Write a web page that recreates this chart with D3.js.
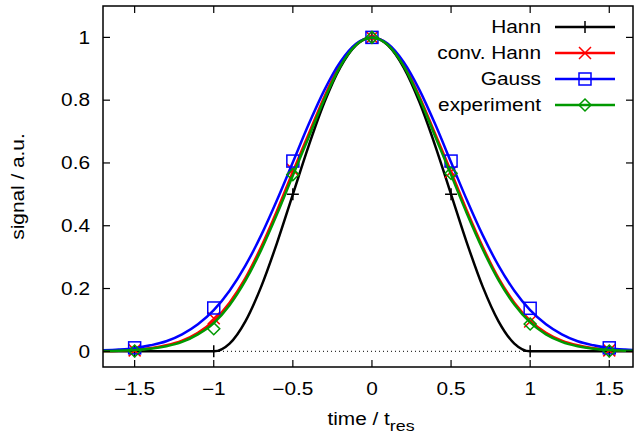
<!DOCTYPE html>
<html>
<head>
<meta charset="utf-8">
<script src="https://cdn.jsdelivr.net/npm/d3@7"></script>
<style>
body{margin:0;background:#fff;}
text{font-family:"Liberation Sans",Arial,sans-serif;}
</style>
</head>
<body>
<svg id="chart" width="635" height="434"></svg>
<script>
// curve samples, t = -1.7 .. 1.7 step 0.1
var t_grid = [-1.7,-1.6,-1.5,-1.4,-1.3,-1.2,-1.1,-1.0,-0.9,-0.8,-0.7,-0.6,-0.5,-0.4,-0.3,-0.2,-0.1,0,
  0.1,0.2,0.3,0.4,0.5,0.6,0.7,0.8,0.9,1.0,1.1,1.2,1.3,1.4,1.5,1.6,1.7]
var hann_curve = [0,0,0,0,0,0,0,0,0.0245,0.0955,0.2061,0.3455,0.5,0.6545,0.7939,0.9045,0.9755,1,
  0.9755,0.9045,0.7939,0.6545,0.5,0.3455,0.2061,0.0955,0.0245,0,0,0,0,0,0,0,0]
var conv_curve = [0.001,0.002,0.005,0.010,0.019,0.034,0.059,0.098,0.155,0.233,0.333,0.448,0.572,0.692,0.812,0.913,0.978,1,
  0.978,0.913,0.812,0.692,0.572,0.448,0.333,0.233,0.155,0.098,0.059,0.034,0.019,0.010,0.005,0.002,0.001]
var gauss_curve = [0.003,0.0055,0.010,0.019,0.032,0.054,0.086,0.131,0.193,0.273,0.370,0.482,0.602,0.723,0.833,0.922,0.980,1,
  0.980,0.922,0.833,0.723,0.602,0.482,0.370,0.273,0.193,0.131,0.086,0.054,0.032,0.019,0.010,0.0055,0.003]
var exp_curve = [0.001,0.002,0.004,0.008,0.016,0.030,0.054,0.090,0.147,0.225,0.323,0.437,0.560,0.682,0.804,0.908,0.976,1,
  0.976,0.909,0.806,0.684,0.562,0.439,0.325,0.227,0.149,0.092,0.054,0.030,0.016,0.008,0.004,0.002,0.001]

// marker points
var t_points = [-1.5,-1,-0.5,0,0.5,1,1.5]
var hann_pts = [0,0,0.5,1,0.5,0,0]
var conv_pts = [0.003,0.105,0.578,1,0.572,0.095,0.003]
var gauss_pts = [0.011,0.138,0.606,1,0.606,0.137,0.011]
var exp_pts = [0.001,0.072,0.563,1,0.567,0.087,0.001]

var series_names = ["Hann","conv. Hann","Gauss","experiment"]
var series_colors = ["#000000","#ff0000","#0000ff","#009900"]
var series_symbols = ["plus","cross","square","diamond"]
var curves = [hann_curve,conv_curve,gauss_curve,exp_curve]
var points = [hann_pts,conv_pts,gauss_pts,exp_pts]

var x_ticks = [-1.5,-1,-0.5,0,0.5,1,1.5]
var y_ticks = [0,0.2,0.4,0.6,0.8,1]

var margin = {left:103, right:2, top:6, bottom:67}
var width = 635, height = 434
var font_size = 17.5, stretch = 1.19

var svg = d3.select("#chart")
var x = d3.scaleLinear().domain([-1.7,1.65]).range([margin.left, width-margin.right])
var y = d3.scaleLinear().domain([-0.05,1.1]).range([height-margin.bottom, margin.top])

var fmt = function(d){ return String(d).replace("-","\u2212") }

// text helper: the reference font runs wider than Liberation Sans
function label(parent, px, py, anchor, str, rot){
  var tr = "translate("+px+","+py+")" + (rot ? " rotate("+rot+")" : "") + " scale("+stretch+",1)"
  return parent.append("text").attr("transform",tr).attr("text-anchor",anchor)
    .attr("font-size",font_size).text(str)
}

// zero line
svg.append("line")
  .attr("x1",x(-1.7)).attr("x2",x(1.65))
  .attr("y1",y(0)).attr("y2",y(0))
  .attr("stroke","#000").attr("stroke-width",1)
  .attr("stroke-dasharray","1,3")

function draw_symbol(g, kind, cx, cy, color){
  var s = 6
  if(kind=="plus"){
    g.append("path").attr("d","M"+(cx-s)+","+cy+"H"+(cx+s)+"M"+cx+","+(cy-s)+"V"+(cy+s))
      .attr("stroke",color).attr("stroke-width",1.5).attr("fill","none")
  } else if(kind=="cross"){
    g.append("path").attr("d","M"+(cx-s)+","+(cy-s)+"L"+(cx+s)+","+(cy+s)+"M"+(cx-s)+","+(cy+s)+"L"+(cx+s)+","+(cy-s))
      .attr("stroke",color).attr("stroke-width",1.5).attr("fill","none")
  } else if(kind=="square"){
    g.append("rect").attr("x",cx-s).attr("y",cy-s).attr("width",2*s).attr("height",2*s)
      .attr("stroke",color).attr("stroke-width",1.5).attr("fill","none")
  } else {
    g.append("path").attr("d","M"+cx+","+(cy-s)+"L"+(cx+s)+","+cy+"L"+cx+","+(cy+s)+"L"+(cx-s)+","+cy+"Z")
      .attr("stroke",color).attr("stroke-width",1.5).attr("fill","none")
  }
}

var plot = svg.append("g")
plot.append("clipPath").attr("id","clip").append("rect")
  .attr("x",margin.left).attr("y",margin.top)
  .attr("width",width-margin.right-margin.left).attr("height",height-margin.bottom-margin.top)

var line = d3.line().x(function(d){return x(d[0])}).y(function(d){return y(d[1])})
  .curve(d3.curveMonotoneX)

for(var i=0;i<curves.length;i++){
  var g = plot.append("g").attr("clip-path","url(#clip)")
  var data = t_grid.map(function(t,j){return [t,curves[i][j]]})
  g.append("path").datum(data).attr("d",line)
    .attr("fill","none").attr("stroke",series_colors[i]).attr("stroke-width",2.5)
  for(var j=0;j<t_points.length;j++){
    draw_symbol(g,series_symbols[i],x(t_points[j]),y(points[i][j]),series_colors[i])
  }
}

// border + ticks
var x0 = margin.left, x1 = width-margin.right, y0 = height-margin.bottom, y1 = margin.top
svg.append("rect").attr("x",x0).attr("y",y1).attr("width",x1-x0).attr("height",y0-y1)
  .attr("fill","none").attr("stroke","#000").attr("stroke-width",1.5)

x_ticks.forEach(function(t){
  svg.append("line").attr("x1",x(t)).attr("x2",x(t)).attr("y1",y0).attr("y2",y0-7)
    .attr("stroke","#000").attr("stroke-width",1.2)
  svg.append("line").attr("x1",x(t)).attr("x2",x(t)).attr("y1",y1).attr("y2",y1+7)
    .attr("stroke","#000").attr("stroke-width",1.2)
  label(svg, x(t), 395, "middle", fmt(t))
})
y_ticks.forEach(function(t){
  svg.append("line").attr("x1",x0).attr("x2",x0+7).attr("y1",y(t)).attr("y2",y(t))
    .attr("stroke","#000").attr("stroke-width",1.2)
  svg.append("line").attr("x1",x1).attr("x2",x1-7).attr("y1",y(t)).attr("y2",y(t))
    .attr("stroke","#000").attr("stroke-width",1.2)
  label(svg, 90, y(t)+6.3, "end", fmt(t))
})

// axis labels
var xl = label(svg, 371, 425, "middle", "")
xl.append("tspan").text("time / t")
xl.append("tspan").attr("dy",6).attr("font-size",15).text("res")
label(svg, 24, (y0+y1)/2, "middle", "signal / a.u.", -90)

// legend
var legend = svg.append("g")
series_names.forEach(function(name,i){
  var ly = 27 + i*26
  label(legend, 541, ly+6.3, "end", name)
  legend.append("line").attr("x1",555).attr("x2",615).attr("y1",ly).attr("y2",ly)
    .attr("stroke",series_colors[i]).attr("stroke-width",2.5)
  draw_symbol(legend,series_symbols[i],585,ly,series_colors[i])
})
</script>
</body>
</html>
